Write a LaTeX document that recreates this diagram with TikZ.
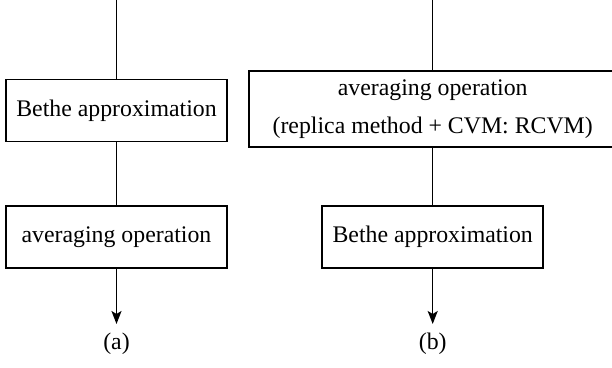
\documentclass[tikz,border=0pt]{standalone}
\usepackage{fontspec}
\setmainfont{Liberation Serif}
\usetikzlibrary{arrows.meta,positioning}

\begin{document}
\begin{tikzpicture}[x=1pt, y=-1pt, font=\fontsize{23.8}{38}\selectfont,
   box/.style={draw, line width=1.6pt, minimum height=62pt, inner sep=0pt, align=center},
   flow/.style={line width=1.5pt, -{Stealth[length=13pt,width=10pt,inset=3pt]}}]
   \useasboundingbox (0,0) rectangle (612,367);
   \coordinate (atop) at (116.5,0);
   \coordinate (btop) at (432.7,0);
   \coordinate (aend) at (116.5,324);
   \coordinate (bend) at (432.7,324);
   \foreach \pos/\name/\disp/\boxw in {{(116.5,110.5)/abethe/Bethe approximation/221}, {(116.5,237)/aavg/averaging operation/221}, {(432.7,237)/bbethe/Bethe approximation/221}}
   \node[box, minimum width=\boxw pt] (\name) at \pos {\disp};
   \node[box, minimum width=368pt, minimum height=76pt] (bavg) at (432.7,109) {averaging operation\\(replica method + CVM: RCVM)};
   \node (alab) at (116.5,344) {(a)};
   \node (blab) at (432.7,344) {(b)};
   \foreach \source/ \dest in {atop/abethe, abethe/aavg, btop/bavg, bavg/bbethe} % plain links between steps
   \draw[line width=1.5pt] (\source) -- (\dest);
   \draw[flow] (aavg) -- (aend);
   \draw[flow] (bbethe) -- (bend);
\end{tikzpicture}
\end{document}
